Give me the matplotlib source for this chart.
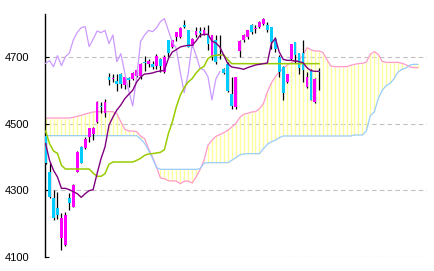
import matplotlib
matplotlib.use('Agg')
import matplotlib.pyplot as plt
import numpy as np

# ---- candle data (index 0..69) ----
opens = [4462, 4356, 4276, 4246, 4156, 4136, 4276, 4251, 4356, 4431,
         4426, 4459, 4469, 4506, 4554, 4533, 4639, 4634, 4629, 4649,
         4617, 4636, 4634, 4644, 4644, 4684, 4679, 4679, 4674, 4694,
         4654, 4751, 4731, 4759, 4759, 4796, 4780, 4733, 4767, 4777,
         4770, 4767, 4700, 4752, 4705, 4665, 4678, 4590, 4550, 4717,
         4750, 4760, 4795, 4783, 4790, 4800, 4795, 4790, 4755, 4700,
         4670, 4626, 4693, 4745, 4711, 4711, 4611, 4661, 4564, 4659]
highs = [4466, 4381, 4301, 4296, 4232, 4234, 4291, 4318, 4419, 4433,
         4461, 4488, 4491, 4569, 4566, 4574, 4651, 4649, 4649, 4651,
         4641, 4639, 4655, 4663, 4681, 4704, 4695, 4689, 4709, 4696,
         4706, 4751, 4752, 4776, 4790, 4811, 4781, 4756, 4790, 4790,
         4790, 4795, 4767, 4765, 4765, 4668, 4685, 4640, 4641, 4751,
         4770, 4782, 4800, 4795, 4808, 4817, 4805, 4790, 4760, 4705,
         4672, 4650, 4740, 4746, 4712, 4751, 4656, 4663, 4636, 4666]
lows = [4378, 4278, 4212, 4214, 4121, 4132, 4241, 4249, 4354, 4381,
        4423, 4446, 4451, 4503, 4531, 4521, 4616, 4624, 4597, 4607,
        4604, 4611, 4630, 4640, 4634, 4659, 4671, 4664, 4664, 4656,
        4651, 4701, 4728, 4748, 4756, 4786, 4729, 4730, 4760, 4760,
        4765, 4720, 4690, 4680, 4695, 4650, 4595, 4545, 4545, 4700,
        4745, 4755, 4770, 4772, 4788, 4796, 4775, 4725, 4715, 4640,
        4570, 4622, 4690, 4683, 4650, 4626, 4608, 4570, 4562, 4601]
closes = [4382, 4281, 4216, 4226, 4216, 4225, 4261, 4316, 4416, 4383,
          4453, 4486, 4486, 4566, 4549, 4566, 4631, 4638, 4619, 4619,
          4639, 4631, 4653, 4661, 4679, 4681, 4689, 4671, 4704, 4674,
          4701, 4712, 4751, 4774, 4788, 4791, 4731, 4753, 4778, 4773,
          4780, 4740, 4766, 4686, 4710, 4652, 4598, 4553, 4640, 4747,
          4766, 4780, 4776, 4787, 4806, 4815, 4780, 4745, 4725, 4655,
          4593, 4649, 4738, 4705, 4666, 4661, 4641, 4571, 4634, 4656]

# ---- Ichimoku lines ----
tenkan = [4440, 4390, 4360, 4340, 4306, 4306, 4302, 4296, 4290, 4279,
          4290, 4299, 4302, 4350, 4395, 4430, 4495, 4520, 4541, 4556,
          4575, 4588, 4600, 4625, 4640, 4649, 4650, 4652, 4656, 4658,
          4660, 4695, 4715, 4722, 4730, 4733, 4735, 4735, 4748, 4765,
          4768, 4768, 4748, 4742, 4730, 4705, 4680, 4670, 4668, 4666,
          4663, 4668, 4672, 4676, 4678, 4680, 4682, 4740, 4756, 4715,
          4693, 4690, 4690, 4688, 4686, 4683, 4668, 4659, 4657, 4657]
kijun = [4478, 4440, 4418, 4411, 4375, 4364, 4364, 4364, 4364, 4364,
         4364, 4364, 4352, 4342, 4342, 4350, 4378, 4385, 4385, 4385,
         4385, 4385, 4385, 4390, 4396, 4405, 4409, 4410, 4412, 4414,
         4422, 4470, 4505, 4550, 4585, 4608, 4625, 4635, 4652, 4665,
         4672, 4695, 4703, 4705, 4706, 4706, 4692, 4680, 4680, 4680,
         4680, 4680, 4680, 4680, 4680, 4680, 4680, 4680, 4680, 4680,
         4680, 4680, 4680, 4680, 4680, 4680, 4680, 4680, 4680, 4680]
span_a = [4516, 4517, 4517, 4517, 4517, 4517, 4517, 4519, 4522, 4525,
          4529, 4532, 4535, 4536, 4536, 4536, 4536, 4536, 4530, 4505,
          4483, 4478, 4478, 4476, 4463, 4455, 4425, 4400, 4370, 4337,
          4335, 4329, 4328, 4328, 4320, 4327, 4328, 4322, 4340, 4362,
          4390, 4435, 4450, 4462, 4467, 4473, 4480, 4490, 4500, 4518,
          4528, 4531, 4535, 4536, 4545, 4560, 4595, 4622, 4640, 4655,
          4665, 4676, 4683, 4688, 4690, 4705, 4728, 4722, 4718, 4718,
          4714, 4693, 4673, 4671, 4671, 4671, 4671, 4675, 4678, 4680,
          4681, 4685, 4708, 4716, 4708, 4687, 4684, 4684, 4684, 4684,
          4681, 4677, 4670, 4668, 4668]
span_b = [4464, 4464, 4464, 4464, 4464, 4464, 4464, 4464, 4464, 4464,
          4464, 4464, 4464, 4464, 4464, 4464, 4464, 4464, 4464, 4464,
          4464, 4464, 4464, 4464, 4454, 4441, 4420, 4396, 4368, 4363,
          4363, 4363, 4363, 4363, 4363, 4363, 4363, 4363, 4363, 4365,
          4381, 4383, 4383, 4383, 4383, 4383, 4383, 4390, 4398, 4406,
          4409, 4410, 4410, 4410, 4410, 4425, 4438, 4446, 4450, 4458,
          4463, 4463, 4463, 4463, 4463, 4463, 4463, 4463, 4463, 4463,
          4463, 4463, 4463, 4463, 4463, 4463, 4463, 4463, 4466, 4466,
          4466, 4478, 4524, 4535, 4575, 4600, 4614, 4621, 4635, 4655,
          4663, 4667, 4676, 4678, 4678]
lag = 25
chikou = closes[lag:]          # lagging span: closes drawn 25 bars back

yticks = [4100, 4300, 4500, 4700]
ylabels = ['4100', '4300', '4500', '4700']

W, H = 434, 271
fig = plt.figure(figsize=(W / 100, H / 100), dpi=100)
ax = fig.add_axes([45 / W, 1 - 257 / H, (427 - 45) / W, (257 - 14) / H])

xc = np.arange(len(closes))
xs = np.arange(len(span_a))
sa = np.array(span_a)
sb = np.array(span_b)

# cloud: vertical yellow lines at each bar
ax.vlines(xs, np.minimum(sa, sb), np.maximum(sa, sb), colors='#ffff99', lw=1.0, zorder=1)
ax.plot(xs, sa, color='#ff99cc', lw=0.9, zorder=2)
ax.plot(xs, sb, color='#99ccff', lw=0.9, zorder=2)

# candles
o = np.array(opens); c = np.array(closes)
ax.vlines(xc, lows, highs, colors='black', lw=0.9, zorder=3)
up = c >= o
body_lo = np.minimum(o, c)
body_h = np.maximum(np.abs(c - o), 3)
cols = np.where(up, '#ff00ff', '#00ccff')
ax.bar(xc, body_h, bottom=body_lo, width=0.7, color=cols, linewidth=0, zorder=4)

# lines
ax.plot(np.arange(len(chikou)), chikou, color='#cc99ff', lw=0.9, zorder=5)
ax.plot(xc, kijun, color='#99cc00', lw=1.1, zorder=6)
ax.plot(xc, tenkan, color='#800080', lw=1.0, zorder=7)

ax.set_xlim(-0.15, (427 - 45) / 3.96 - 0.15)
ax.set_ylim(4100, 4829)

for yv in yticks:
    ax.axhline(yv, color='#c0c0c0', lw=0.8, linestyle=(0, (4, 3)), zorder=0)

ax.set_yticks(yticks)
ax.set_yticklabels(ylabels, fontfamily='Liberation Sans', fontsize=8)
ax.tick_params(axis='y', direction='in', length=3, width=0.8, pad=11, colors='black')
ax.set_xticks([])
for s in ['top', 'right', 'bottom']:
    ax.spines[s].set_visible(False)
ax.spines['left'].set_linewidth(1.0)
ax.spines['left'].set_color('black')

fig.savefig('out.png', dpi=100)
